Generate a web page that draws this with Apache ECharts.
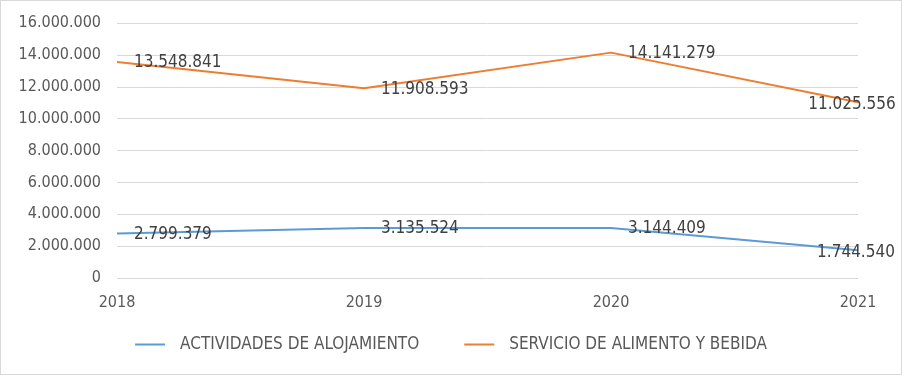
<!DOCTYPE html>
<html>
<head>
<meta charset="utf-8">
<script src="https://cdn.jsdelivr.net/npm/echarts@6/dist/echarts.min.js"></script>
<style>
  html, body { margin: 0; padding: 0; background: #fff; }
  #chart { width: 900px; height: 373px; border: 1px solid #d9d9d9; }
</style>
</head>
<body>
<div id="chart"></div>
<script>
// datos
const years = ['2018', '2019', '2020', '2021'];
const alojamiento = [2799379, 3135524, 3144409, 1744540];
const alimentos = [13548841, 11908593, 14141279, 11025556];
const seriesNames = ['ACTIVIDADES DE ALOJAMIENTO', 'SERVICIO DE ALIMENTO Y BEBIDA'];

const FONT = "'Liberation Sans Narrow', 'DejaVu Sans Condensed', 'Open Sans'";

function fmt(v) {
    return String(v).replace(/\B(?=(\d{3})+(?!\d))/g, '.');
}

// etiquetas a la derecha, la ultima centrada sobre el punto
function toItems(arr, lastDx) {
    return arr.map((v, i) => {
        if (i === arr.length - 1) {
            return { value: v, label: { position: 'inside', offset: [lastDx, 2] } };
        }
        return { value: v };
    });
}

function labelStyle() {
    return {
        show: true,
        position: 'right',
        distance: 17,
        offset: [0, 1],
        color: '#404040',
        fontSize: 17,
        fontFamily: FONT,
        formatter: p => fmt(p.value)
    };
}

const myChart = echarts.init(document.getElementById('chart'));
myChart.setOption({
    animation: false,
    textStyle: { fontFamily: FONT },
    grid: { left: 116, right: 43, top: 22, bottom: 96 },
    legend: {
        bottom: 16,
        left: 'center',
        itemGap: 45,
        itemWidth: 30,
        itemHeight: 2,
        icon: 'rect',
        textStyle: { color: '#595959', fontSize: 17, fontFamily: FONT, padding: [0, 0, 0, 10] },
        data: seriesNames
    },
    xAxis: {
        type: 'category',
        boundaryGap: false,
        data: years,
        axisTick: { show: false },
        axisLine: { show: false },
        axisLabel: { color: '#595959', fontSize: 16, margin: 17 }
    },
    yAxis: {
        type: 'value',
        min: 0,
        max: 16000000,
        interval: 2000000,
        axisLine: { show: false },
        axisTick: { show: false },
        splitLine: { lineStyle: { color: '#d9d9d9', width: 1 } },
        axisLabel: { color: '#595959', fontSize: 16, margin: 16, formatter: v => fmt(v) }
    },
    series: [
        {
            name: seriesNames[0],
            type: 'line',
            data: toItems(alojamiento, -2),
            symbol: 'circle',
            symbolSize: 0,
            lineStyle: { color: '#5B9BD5', width: 2 },
            itemStyle: { color: '#5B9BD5' },
            label: labelStyle()
        },
        {
            name: seriesNames[1],
            type: 'line',
            data: toItems(alimentos, -6),
            symbol: 'circle',
            symbolSize: 0,
            lineStyle: { color: '#ED7D31', width: 2 },
            itemStyle: { color: '#ED7D31' },
            label: labelStyle()
        }
    ]
});
</script>
</body>
</html>
